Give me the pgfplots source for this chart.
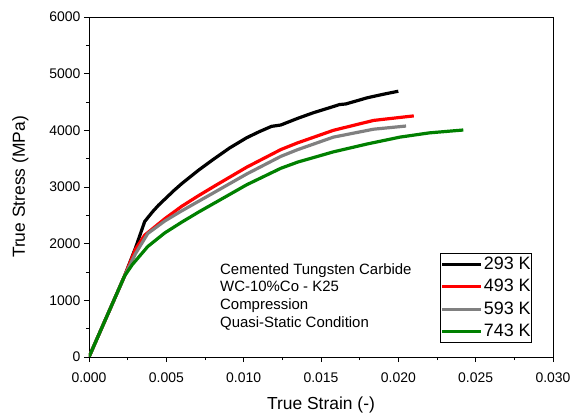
\documentclass[border=0pt]{standalone}
\usepackage{pgfplots}
\pgfplotsset{compat=1.18}
\usepackage{fontspec}
\setmainfont{Liberation Sans}
\definecolor{cgray}{RGB}{128,128,128}
\definecolor{cgreen}{RGB}{0,128,0}
\definecolor{cred}{RGB}{255,0,0}
\begin{document}
\begin{tikzpicture}
\path[use as bounding box] (-89bp,-61bp) rectangle (482bp,357bp);
\begin{axis}[
  scale only axis,
  width=464bp, height=340bp,
  xmin=0, xmax=0.03, ymin=0, ymax=6000,
  xtick={0,0.005,0.01,0.015,0.02,0.025,0.03},
  ytick={0,1000,2000,3000,4000,5000,6000},
  minor x tick num=1, minor y tick num=1,
  tick align=outside, xtick pos=bottom, ytick pos=left,
  major tick length=5bp, minor tick length=3bp,
  every tick/.style={black, line width=0.8bp},
  axis line style={black, line width=0.9bp},
  scaled x ticks=false, scaled y ticks=false,
  /pgf/number format/assume math mode=true,
  ticklabel style={font=\fontsize{14}{16}\selectfont},
  xticklabel style={yshift=-7bp, /pgf/number format/.cd, fixed, fixed zerofill, precision=3},
  yticklabel style={/pgf/number format/.cd, 1000 sep={}},
  xlabel={True Strain (-)}, ylabel={True Stress (MPa)},
  label style={font=\fontsize{17.5}{20}\selectfont},
  xlabel style={at={(axis description cs:0.5,-0.153)}, anchor=base},
  ylabel style={at={(axis description cs:-0.138,0.5)}, anchor=base, rotate=0},
  legend style={at={(rel axis cs:0.9547,0.041)}, anchor=south east, draw=black, line width=0.6bp,
    inner xsep=0bp, inner ysep=1.5bp, font=\fontsize{18}{20}\selectfont, row sep=3.5bp,
    nodes={inner sep=1bp, text height=13.5bp, text depth=3.5bp}},
  legend cell align=left,
  legend image code/.code={\draw[#1] (-2bp,0bp) -- (37bp,0bp);},
  every axis plot/.append style={line width=3.2bp, line join=round},
]
\addplot[black] coordinates {
(0,0) (0.0023,1430) (0.0030,1920) (0.0036,2390) (0.0041,2560) (0.0045,2680)
(0.0050,2810) (0.0055,2940) (0.0060,3060) (0.0071,3300) (0.0080,3480)
(0.0091,3690) (0.0102,3870) (0.0110,3975) (0.0118,4070) (0.0121,4082)
(0.0124,4094) (0.0135,4212) (0.0145,4310) (0.0158,4420) (0.0162,4455)
(0.0166,4465) (0.0180,4575) (0.0190,4635) (0.0200,4690)};
\addlegendentry{293 K}
\addplot[cred] coordinates {
(0,0) (0.0023,1430) (0.0030,1900) (0.0036,2150) (0.0049,2440) (0.0060,2660)
(0.0071,2850) (0.0082,3030) (0.0102,3350) (0.0124,3660) (0.0135,3780)
(0.0158,4000) (0.0184,4175) (0.0210,4255)};
\addlegendentry{493 K}
\addplot[cgray] coordinates {
(0,0) (0.0023,1430) (0.0030,1820) (0.0038,2180) (0.0049,2400) (0.0060,2580)
(0.0071,2750) (0.0082,2920) (0.0102,3230) (0.0124,3540) (0.0135,3660)
(0.0158,3880) (0.0184,4020) (0.0205,4076)};
\addlegendentry{593 K}
\addplot[cgreen] coordinates {
(0,0) (0.0023,1430) (0.0028,1630) (0.0038,1950) (0.0049,2190) (0.0060,2380)
(0.0071,2560) (0.0082,2730) (0.0102,3040) (0.0124,3330) (0.0135,3440)
(0.0158,3620) (0.0180,3760) (0.0201,3880) (0.0220,3955) (0.0242,4006)};
\addlegendentry{743 K}
\node[anchor=north west, inner sep=0bp, align=left, font=\fontsize{15}{17.8}\selectfont]
  at (axis cs:0.00847,1659) {Cemented Tungsten Carbide\\WC-10\%Co - K25\\Compression\\Quasi-Static Condition};
\end{axis}
\end{tikzpicture}
\end{document}
